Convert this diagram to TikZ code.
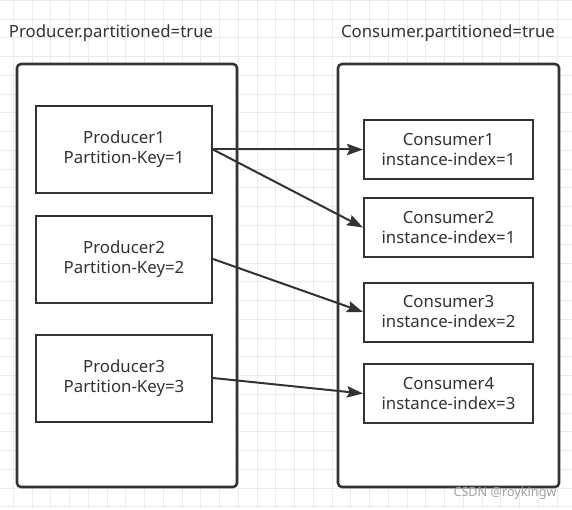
\documentclass[tikz,border=0pt]{standalone}
\usepackage{fontspec}
\setmainfont{Noto Sans}
\usetikzlibrary{arrows.meta}
\definecolor{ink}{HTML}{333333}
\definecolor{gridc}{HTML}{EBEBEB}
\definecolor{wm}{HTML}{A0A0A0}
\begin{document}
\begin{tikzpicture}[x=0.75pt,y=-0.75pt,
  every node/.style={font=\fontsize{12.6}{15}\selectfont, text=ink},
  gridline/.style={draw=gridc, line width=0.75pt},
  outerbox/.style={draw=ink, fill=white, line width=1.9pt, rounded corners=3pt, inner sep=0pt},
  prodbox/.style={draw=ink, fill=white, line width=1.5pt, minimum width=132pt, minimum height=65.25pt, align=center, inner sep=0pt},
  consbox/.style={draw=ink, fill=white, line width=1.5pt, minimum width=126.75pt, minimum height=44.25pt, align=center, inner sep=0pt},
  conn/.style={draw=ink, line width=1.5pt, -{Stealth[length=12pt,width=8.5pt,inset=2pt]}},
  titletext/.style={inner sep=0pt}
]
\useasboundingbox (0,0) rectangle (572,510);
\fill[white] (0,0) rectangle (572,510);
\foreach \i in {0,...,30} \draw[gridline] ({13.3+18.75*\i},0) -- ({13.3+18.75*\i},508);
\foreach \j in {0,...,27} \draw[gridline] (0,{0.5+18.75*\j}) -- (572,{0.5+18.75*\j});

\node[titletext] (tl) at (111,33) {Producer.partitioned=true};
\node[titletext] (tr) at (448,33) {Consumer.partitioned=true};

\node[outerbox, minimum width=165pt, minimum height=317.25pt] (L) at (127,275.5) {};
\node[outerbox, minimum width=165.75pt, minimum height=317.25pt] (R) at (448.5,275.5) {};

\node[prodbox] (p1) at (124,149.5) {Producer1\\Partition-Key=1};
\node[prodbox] (p2) at (124,259) {Producer2\\Partition-Key=2};
\node[prodbox] (p3) at (124,378) {Producer3\\Partition-Key=3};

\node[consbox] (c1) at (448.5,149.5) {Consumer1\\instance-index=1};
\node[consbox] (c2) at (448.5,227.5) {Consumer2\\instance-index=1};
\node[consbox] (c3) at (448.5,312) {Consumer3\\instance-index=2};
\node[consbox] (c4) at (448.5,393.5) {Consumer4\\instance-index=3};

\draw[conn] (p1.east) -- (c1.west);
\draw[conn] (p1.east) -- (c2.west);
\draw[conn] (p2.east) -- (c3.west);
\draw[conn] (p3.east) -- (c4.west);

\node[font=\fontsize{9.5}{11}\selectfont, text=wm, inner sep=0pt] (wmk) at (505,493) {CSDN @roykingw};
\end{tikzpicture}
\end{document}
